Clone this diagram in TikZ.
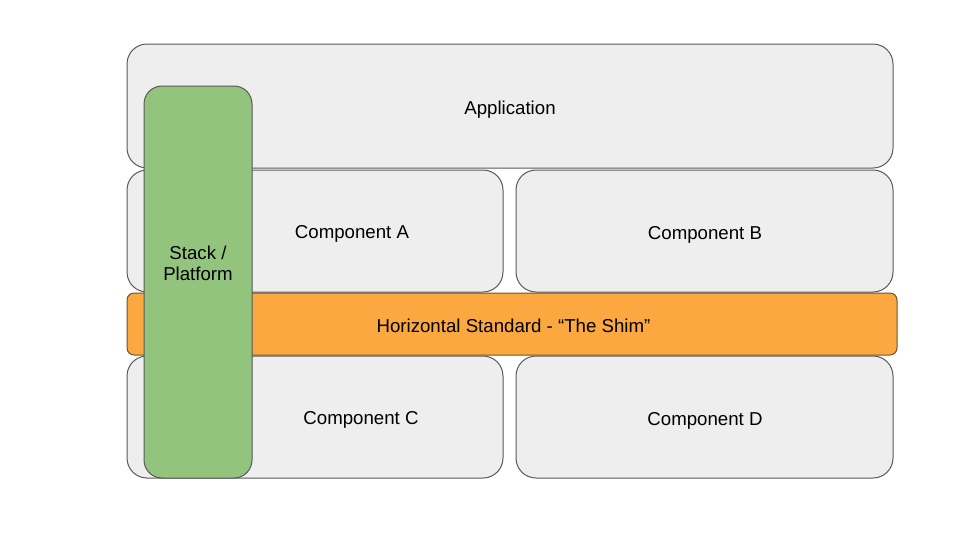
\documentclass[tikz,border=0pt]{standalone}
\usepackage{fontspec}
\setmainfont{Liberation Sans}
\definecolor{boxgray}{HTML}{EEEEEE}
\definecolor{edgegray}{HTML}{595959}
\definecolor{stackgreen}{HTML}{93C47D}
\definecolor{shimorange}{HTML}{FAA83F}
\definecolor{shimedge}{HTML}{6B5430}
\tikzset{
  box/.style={draw=edgegray, line width=0.75pt, fill=boxgray, rounded corners=15pt,
    rectangle, inner sep=0pt, outer sep=0pt},
  shimbox/.style={draw=shimedge, line width=0.75pt, fill=shimorange, rounded corners=5.25pt,
    rectangle, inner sep=0pt, outer sep=0pt, minimum width=577.5pt, minimum height=46.5pt},
  stackbox/.style={draw=edgegray, line width=0.75pt, fill=stackgreen, rounded corners=13.5pt,
    rectangle, inner sep=0pt, outer sep=0pt, minimum width=81pt, minimum height=294pt},
  lbl/.style={font=\fontsize{14pt}{17pt}\selectfont, text=black, inner sep=0pt, align=center}
}
\begin{document}
\begin{tikzpicture}[x=0.75pt, y=-0.75pt]
\useasboundingbox (0,0) rectangle (960,540);
\node[box, minimum width=574.5pt, minimum height=93pt] (app) at (510,106) {};
\node[box, minimum width=282pt, minimum height=91.5pt] (compA) at (315,231) {};
\node[box, minimum width=282.75pt, minimum height=91.5pt] (compB) at (704.5,231) {};
\node[box, minimum width=282pt, minimum height=91.5pt] (compC) at (315,417) {};
\node[box, minimum width=282.75pt, minimum height=91.5pt] (compD) at (704.5,417) {};
\node[shimbox] (shim) at (512,324) {};
\node[stackbox] (stack) at (198,282) {};
\node[lbl] (tapp) at (510,110) {Application};
\node[lbl] (tA) at (352,234) {Component A};
\node[lbl] (tB) at (705,235) {Component B};
\node[lbl] (tC) at (361,420) {Component C};
\node[lbl] (tD) at (705,421) {Component D};
\node[lbl] (tshim) at (513.5,326) {Horizontal Standard - “The Shim”};
\node[lbl] (tstack1) at (198,252.5) {Stack /};
\node[lbl] (tstack2) at (198,274) {Platform};
\end{tikzpicture}
\end{document}
